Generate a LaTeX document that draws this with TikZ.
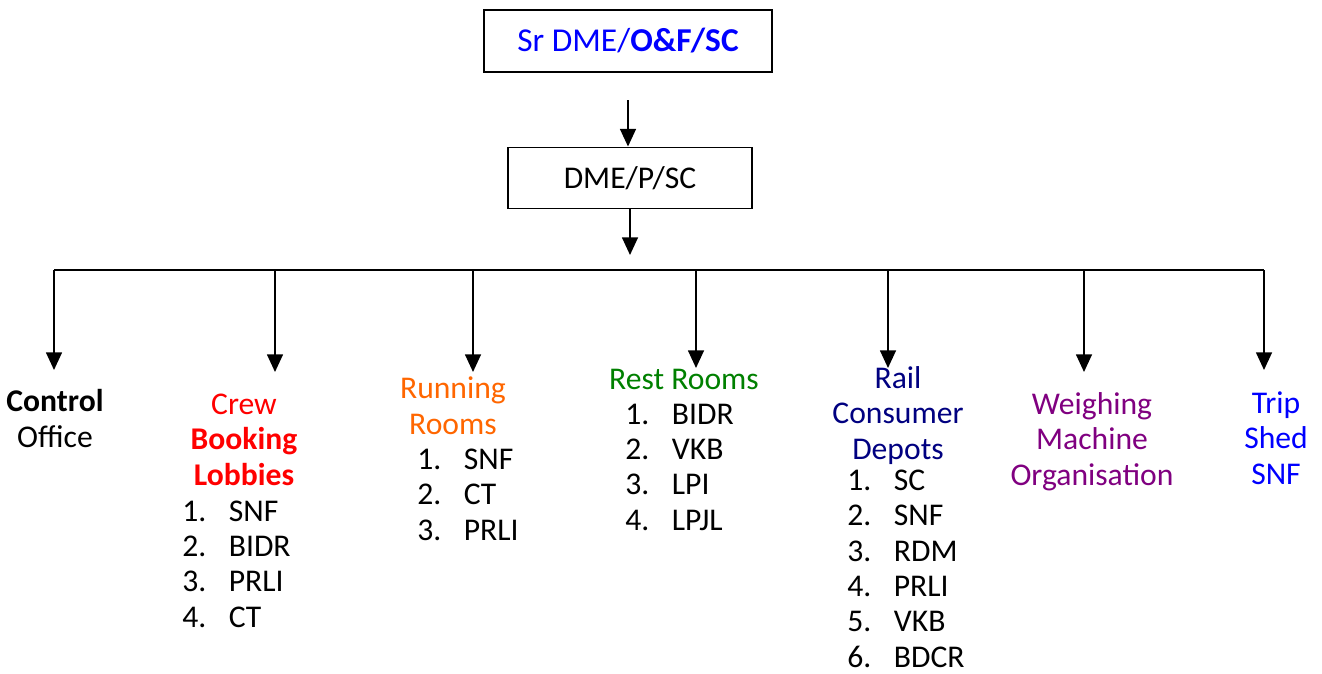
\documentclass[tikz,border=0pt]{standalone}
\usepackage{fontspec}
\setmainfont{Carlito}
\usetikzlibrary{arrows.meta}

\definecolor{crewred}{RGB}{255,0,0}
\definecolor{runorange}{RGB}{255,102,0}
\definecolor{restgreen}{RGB}{0,128,0}
\definecolor{railnavy}{RGB}{0,0,128}
\definecolor{weighpurple}{RGB}{128,0,128}
\definecolor{tripblue}{RGB}{0,0,255}

\newcommand\lblfont{\fontsize{18}{20.1}\selectfont}
\newcommand\lno[1]{\makebox[26.5pt][l]{#1}}

\begin{document}
\begin{tikzpicture}[x=0.02cm, y=-0.02cm,
	box/.style={draw, line width=1.1pt, inner sep=0pt},
	lbl/.style={align=center, inner sep=0pt, anchor=base, font=\lblfont},
	lst/.style={align=left, inner sep=0pt, anchor=base west, font=\lblfont},
	arr/.style={line width=1pt, -{Triangle[width=9pt,length=10pt]}}]
	\useasboundingbox (0, 0) rectangle (1322, 673);
	% top boxes
	\node[box, minimum width=5.76cm, minimum height=1.24cm, text=tripblue,
		font=\fontsize{19}{22}\selectfont] (srdme) at (628, 41) {Sr DME/\textbf{O\&F/SC}};
	\node[box, minimum width=4.88cm, minimum height=1.22cm,
		font=\fontsize{18}{22}\selectfont] (dme) at (630, 178) {DME/P/SC};
	\coordinate (a1) at (628, 100);
	\coordinate (a2) at (630, 255);
	\draw[arr] (a1) -- (a1 |- dme.north);
	\draw[arr] (dme.south -| a2) -- (a2);
	% bus line
	\coordinate (busL) at (54, 270);
	\coordinate (busR) at (1264, 270);
	\draw[line width=1pt] (busL) -- (busR);
	% arrow tips
	\coordinate (t-ctrl) at (54, 370);
	\coordinate (t-crew) at (275, 372);
	\coordinate (t-run) at (473, 372);
	\coordinate (t-rest) at (696, 368);
	\coordinate (t-rail) at (888, 368);
	\coordinate (t-weigh) at (1084, 372);
	\coordinate (t-trip) at (1264, 370);
	\foreach \t in {t-ctrl, t-crew, t-run, t-rest, t-rail, t-weigh, t-trip}
		\draw[arr] (\t |- busL) -- (\t);
	% labels (base = last line)
	\node[lbl] (ctrl) at (55, 447) {\textbf{Control}\\Office};
	\node[lbl, text=crewred] (crew) at (244, 485) {Crew\\\textbf{Booking}\\\textbf{Lobbies}};
	\node[lbl, text=runorange] (run) at (453, 434) {Running\\Rooms};
	\node[lbl, text=restgreen] (rest) at (684, 389) {Rest Rooms};
	\node[lbl, text=railnavy] (rail) at (898, 459) {Rail\\Consumer\\Depots};
	\node[lbl, text=weighpurple] (weigh) at (1092, 485) {Weighing\\Machine\\Organisation};
	\node[lbl, text=tripblue] (trip) at (1276, 484) {Trip\\Shed\\SNF};
	% lists
	\node[lst] (crewlist) at (182, 627) {\lno{1.}SNF\\\lno{2.}BIDR\\\lno{3.}PRLI\\\lno{4.}CT};
	\node[lst] (runlist) at (417, 540) {\lno{1.}SNF\\\lno{2.}CT\\\lno{3.}PRLI};
	\node[lst] (restlist) at (625, 530) {\lno{1.}BIDR\\\lno{2.}VKB\\\lno{3.}LPI\\\lno{4.}LPJL};
	\node[lst] (raillist) at (847, 667) {\lno{1.}SC\\\lno{2.}SNF\\\lno{3.}RDM\\\lno{4.}PRLI\\\lno{5.}VKB\\\lno{6.}BDCR};
\end{tikzpicture}
\end{document}
